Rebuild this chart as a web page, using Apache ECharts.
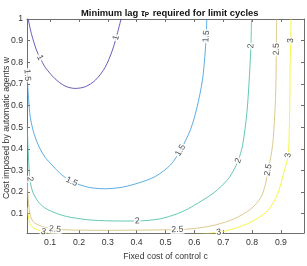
<!DOCTYPE html>
<html lang="en">
<head>
    <meta charset="UTF-8">
    <title>Minimum lag contour</title>
    <script src="https://cdn.jsdelivr.net/npm/echarts@6/dist/echarts.min.js"></script>
    <style>
        html, body { margin: 0; padding: 0; background: #fff; }
    </style>
</head>
<body>
    <div id="main" style="width: 307px; height: 266px;"></div>
    <script>
        // tick values
        const xTicks = [0.1, 0.2, 0.3, 0.4, 0.5, 0.6, 0.7, 0.8, 0.9];
        const yTicks = [0.1, 0.2, 0.3, 0.4, 0.5, 0.6, 0.7, 0.8, 0.9, 1];

        const levels = ['1', '1.5', '2', '2.5', '3'];

        // contour lines, [c, w]
        const contour1 = [[0.024, 1.0], [0.036, 0.928], [0.054, 0.852], [0.065, 0.822], [0.083, 0.777], [0.117, 0.724],
            [0.152, 0.690], [0.187, 0.679], [0.222, 0.687], [0.257, 0.717], [0.291, 0.777], [0.315, 0.852],
            [0.329, 0.913], [0.346, 1.0]];
        const contour15 = [[0.021, 0.72], [0.026, 0.62], [0.031, 0.55], [0.040, 0.49], [0.052, 0.44], [0.065, 0.40],
            [0.083, 0.36], [0.110, 0.32], [0.140, 0.28], [0.175, 0.248], [0.233, 0.222], [0.291, 0.215],
            [0.349, 0.222], [0.407, 0.242], [0.465, 0.272], [0.517, 0.325], [0.552, 0.393], [0.587, 0.490],
            [0.610, 0.596], [0.628, 0.717], [0.636, 0.822], [0.641, 0.92], [0.643, 1.0]];
        const contour2 = [[0.021, 0.50], [0.023, 0.42], [0.026, 0.34], [0.030, 0.26], [0.040, 0.20], [0.059, 0.155],
            [0.080, 0.128], [0.106, 0.110], [0.140, 0.093], [0.175, 0.082], [0.245, 0.070], [0.338, 0.066],
            [0.402, 0.066], [0.477, 0.075], [0.520, 0.090], [0.560, 0.110], [0.598, 0.137], [0.668, 0.197],
            [0.715, 0.257], [0.738, 0.305], [0.752, 0.345], [0.767, 0.415], [0.782, 0.566], [0.790, 0.717],
            [0.796, 0.875], [0.798, 1.0]];
        const contour25 = [[0.021, 0.25], [0.024, 0.17], [0.030, 0.10], [0.036, 0.075], [0.045, 0.058], [0.059, 0.048],
            [0.085, 0.035], [0.117, 0.028], [0.187, 0.024], [0.303, 0.023], [0.500, 0.025], [0.541, 0.026],
            [0.599, 0.031], [0.668, 0.046], [0.738, 0.076], [0.796, 0.122], [0.830, 0.174], [0.845, 0.23],
            [0.856, 0.302], [0.871, 0.415], [0.879, 0.566], [0.883, 0.717], [0.884, 0.86], [0.885, 1.0]];
        const contour3 = [[0.021, 0.13], [0.025, 0.085], [0.030, 0.054], [0.040, 0.036], [0.048, 0.030], [0.077, 0.016],
            [0.120, 0.006], [0.300, 0.002], [0.600, 0.004], [0.685, 0.014], [0.738, 0.031], [0.796, 0.061],
            [0.854, 0.114], [0.888, 0.189], [0.911, 0.295], [0.925, 0.370], [0.929, 0.490], [0.931, 0.641],
            [0.932, 0.792], [0.934, 0.90], [0.935, 1.0]];
        const contours = [contour1, contour15, contour2, contour25, contour3];

        // where the inline labels sit
        const labels1 = [[0.065, 0.822], [0.329, 0.913]];
        const labels15 = [[0.021, 0.74], [0.175, 0.248], [0.552, 0.393], [0.641, 0.92]];
        const labels2 = [[0.030, 0.26], [0.402, 0.066], [0.752, 0.345], [0.796, 0.875]];
        const labels25 = [[0.117, 0.028], [0.541, 0.026], [0.856, 0.302], [0.884, 0.86]];
        const labels3 = [[0.077, 0.016], [0.685, 0.014], [0.925, 0.370], [0.934, 0.90]];
        const labelSets = [labels1, labels15, labels2, labels25, labels3];

        const colors = ['#4433aa', '#3398dc', '#3dbaa3', '#d4bc72', '#f3f31c'];
        const font = '"Liberation Sans", Arial, sans-serif';
        const axisGray = '#6e6e6e';
        const textGray = '#333';

        const fmt = v => (Math.abs(v - 1) < 1e-9 ? '1' : v.toFixed(1));

        function boxAxis(isX, main) {
            const ax = {
                type: 'value',
                min: isX ? 0.02 : 0.01,
                max: isX ? 0.98 : 1,
                position: isX ? (main ? 'bottom' : 'top') : (main ? 'left' : 'right'),
                axisLine: { show: true, onZero: false, lineStyle: { color: axisGray, width: 1 } },
                axisTick: { show: true, inside: true, length: 3, customValues: isX ? xTicks : yTicks, lineStyle: { color: axisGray } },
                axisLabel: { show: main, customValues: isX ? xTicks : yTicks, formatter: fmt, color: textGray, fontSize: 8.7, fontFamily: font, margin: isX ? 5 : 4 },
                splitLine: { show: false }
            };
            if (main && isX) {
                ax.name = 'Fixed cost of control c';
                ax.nameLocation = 'middle';
                ax.nameGap = 17;
                ax.nameTextStyle = { color: textGray, fontSize: 8.7, fontFamily: font };
            }
            return ax;
        }

        const chart = echarts.init(document.getElementById('main'));

        const lineSeries = contours.map((pts, i) => ({
            type: 'line',
            name: levels[i],
            data: pts,
            showSymbol: false,
            smooth: 0.3,
            clip: true,
            silent: true,
            z: 2,
            lineStyle: { color: colors[i], width: 0.8 }
        }));

        function labelData(rotFn) {
            const out = [];
            labelSets.forEach((set, i) => {
                set.forEach(p => {
                    out.push({ name: levels[i], value: p, label: { rotate: rotFn ? rotFn(i, p) : 0 } });
                });
            });
            return out;
        }

        const option = {
            animation: false,
            title: {
                text: '{a|Minimum lag }{t|τ}{s|P}{a| required for limit cycles}',
                left: 76,
                top: 2,
                textStyle: {
                    rich: {
                        a: { fontSize: 9.4, fontWeight: 'bold', fontFamily: font, color: '#111' },
                        t: { fontSize: 9.4, fontStyle: 'italic', fontWeight: 'bold', fontFamily: font, color: '#111' },
                        s: { fontSize: 6.5, fontWeight: 'bold', fontFamily: font, color: '#111', padding: [5, 1, 0, 0] }
                    }
                }
            },
            graphic: [{
                type: 'text',
                x: 7,
                y: 128,
                rotation: Math.PI / 2,
                style: {
                    text: 'Cost imposed by automatic agents w',
                    fill: textGray,
                    fontSize: 8.7,
                    fontFamily: font,
                    align: 'center',
                    verticalAlign: 'middle'
                }
            }],
            grid: { left: 27, right: 3, top: 19, bottom: 28 },
            xAxis: [boxAxis(true, true), boxAxis(true, false)],
            yAxis: [boxAxis(false, true), boxAxis(false, false)],
            series: lineSeries.concat([{
                type: 'scatter',
                symbolSize: 0,
                silent: true,
                z: 5,
                data: labelData(null),
                label: {
                    show: true,
                    position: 'inside',
                    formatter: '{b}',
                    color: '#222',
                    fontSize: 8.7,
                    fontFamily: font,
                    backgroundColor: '#fff',
                    padding: [0, 1]
                }
            }])
        };
        chart.setOption(option);

        // turn each label to follow its line on screen
        function rotationAt(i, p) {
            const pts = contours[i];
            let best = 0, bd = Infinity;
            pts.forEach((q, k) => {
                const d = (q[0] - p[0]) ** 2 + (q[1] - p[1]) ** 2;
                if (d < bd) { bd = d; best = k; }
            });
            const a = chart.convertToPixel({ gridIndex: 0 }, pts[Math.max(0, best - 1)]);
            const b = chart.convertToPixel({ gridIndex: 0 }, pts[Math.min(pts.length - 1, best + 1)]);
            let ang = -Math.atan2(b[1] - a[1], b[0] - a[0]) * 180 / Math.PI;
            while (ang > 90) ang -= 180;
            while (ang <= -90) ang += 180;
            return ang;
        }
        chart.setOption({ series: lineSeries.concat([{ data: labelData(rotationAt) }]) });
    </script>
</body>
</html>
